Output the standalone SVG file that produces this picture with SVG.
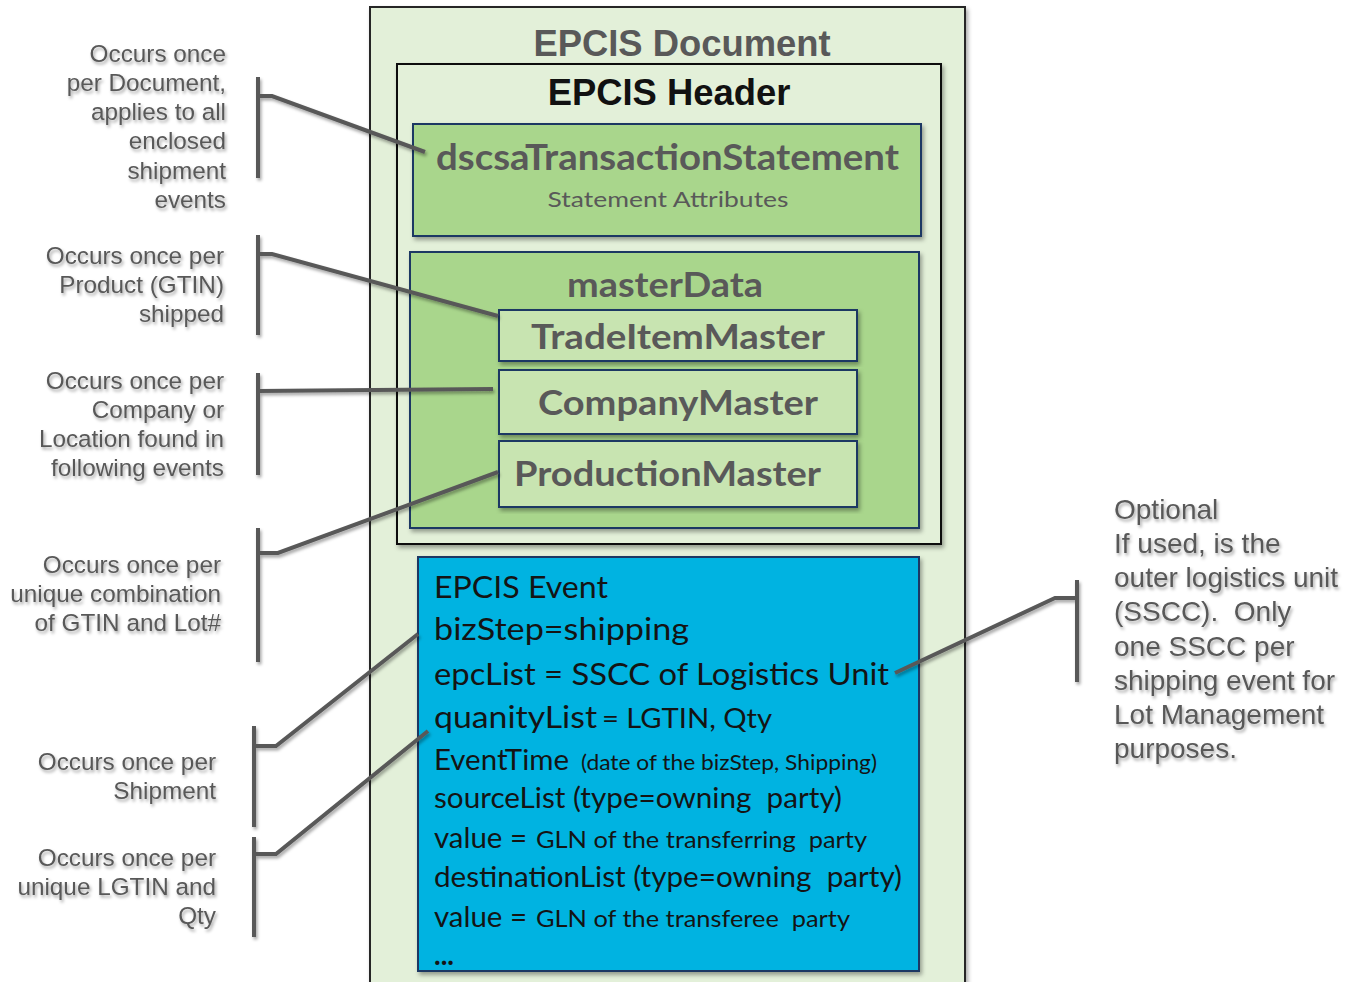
<svg xmlns="http://www.w3.org/2000/svg" width="1359" height="982" viewBox="0 0 1359 982">
<defs>
<filter id="sh" x="-10%" y="-10%" width="120%" height="120%"><feDropShadow dx="2" dy="3" stdDeviation="2" flood-color="#000" flood-opacity="0.35"/></filter>
<filter id="tsh" x="-10%" y="-20%" width="120%" height="150%"><feDropShadow dx="1.5" dy="2.5" stdDeviation="1.5" flood-color="#000" flood-opacity="0.35"/></filter>
</defs>
<style>
.note{font-family:"Liberation Sans",Arial,sans-serif;font-size:24.3px;fill:#595959}
.rnote{font-family:"Liberation Sans",Arial,sans-serif;font-size:28px;fill:#595959}
.title{font-family:"Liberation Sans",Arial,sans-serif;font-size:36.4px;font-weight:bold;text-anchor:middle}
.gb{font-family:Lato,"Open Sans",sans-serif;font-weight:bold;fill:#595959}
.ev{font-family:Lato,"Open Sans",sans-serif;fill:#141414;white-space:pre}
.box{stroke:#1f3864;stroke-width:2}
.conn{fill:none;stroke:#595959;stroke-width:4;stroke-linejoin:miter}
</style>
<rect width="1359" height="982" fill="#ffffff"/>

<g id="epcis-document">
<rect x="370" y="7" width="595" height="980" fill="#e3f0d9" stroke="#262626" stroke-width="2" filter="url(#sh)"/>
<text class="title" x="682" y="56" fill="#595959">EPCIS Document</text>
</g>

<g id="epcis-header">
<rect x="397" y="64" width="544" height="480" fill="#e3f0d9" stroke="#111" stroke-width="2" filter="url(#sh)"/>
<text class="title" x="669" y="105" fill="#111">EPCIS Header</text>
</g>

<g id="dscsa">
<rect class="box" x="413" y="124" width="508" height="112" fill="#a9d68c" filter="url(#sh)"/>
<text class="gb" x="436" y="170" font-size="36" textLength="463" lengthAdjust="spacingAndGlyphs">dscsaTransactionStatement</text>
<text class="gb" x="668" y="207" font-size="22" text-anchor="middle" textLength="241" lengthAdjust="spacingAndGlyphs" style="font-weight:normal">Statement Attributes</text>
</g>

<g id="masterData">
<rect class="box" x="410" y="252" width="509" height="276" fill="#a9d68c" filter="url(#sh)"/>
<text class="gb" x="567" y="297" font-size="34" textLength="196" lengthAdjust="spacingAndGlyphs">masterData</text>
</g>

<g id="trade-item-master">
<rect class="box" x="499" y="310" width="358" height="51" fill="#c8e4b1" filter="url(#sh)"/>
<text class="gb" x="531" y="349" font-size="34" textLength="294" lengthAdjust="spacingAndGlyphs">TradeItemMaster</text>
</g>

<g id="company-master">
<rect class="box" x="499" y="370" width="358" height="64" fill="#c8e4b1" filter="url(#sh)"/>
<text class="gb" x="538" y="415" font-size="34" textLength="280" lengthAdjust="spacingAndGlyphs">CompanyMaster</text>
</g>

<g id="production-master">
<rect class="box" x="499" y="441" width="358" height="66" fill="#c8e4b1" filter="url(#sh)"/>
<text class="gb" x="514" y="486" font-size="34" textLength="307" lengthAdjust="spacingAndGlyphs">ProductionMaster</text>
</g>

<g id="epcis-event">
<rect class="box" x="418" y="557" width="501" height="414" fill="#00b3e1" filter="url(#sh)"/>
<text class="ev" x="434" y="598" font-size="31" textLength="174" lengthAdjust="spacingAndGlyphs">EPCIS Event</text>
<text class="ev" x="434" y="640" font-size="31" textLength="255" lengthAdjust="spacingAndGlyphs">bizStep=shipping</text>
<text class="ev" x="434" y="685" font-size="31" textLength="455" lengthAdjust="spacingAndGlyphs">epcList = SSCC of Logistics Unit</text>
<text class="ev" x="434" y="728" font-size="31" textLength="163" lengthAdjust="spacingAndGlyphs">quanityList</text>
<text class="ev" x="602" y="728" font-size="27" textLength="170" lengthAdjust="spacingAndGlyphs">= LGTIN, Qty</text>
<text class="ev" x="434" y="770" font-size="28" textLength="135" lengthAdjust="spacingAndGlyphs">EventTime</text>
<text class="ev" x="581" y="770" font-size="21" textLength="296" lengthAdjust="spacingAndGlyphs">(date of the bizStep, Shipping)</text>
<text class="ev" x="434" y="808" font-size="28" textLength="408" lengthAdjust="spacingAndGlyphs">sourceList (type=owning  party)</text>
<text class="ev" x="434" y="848" font-size="28" textLength="93" lengthAdjust="spacingAndGlyphs">value =</text>
<text class="ev" x="536" y="848" font-size="24" textLength="331" lengthAdjust="spacingAndGlyphs">GLN of the transferring  party</text>
<text class="ev" x="434" y="887" font-size="28" textLength="468" lengthAdjust="spacingAndGlyphs">destinationList (type=owning  party)</text>
<text class="ev" x="434" y="927" font-size="28" textLength="93" lengthAdjust="spacingAndGlyphs">value =</text>
<text class="ev" x="536" y="927" font-size="24" textLength="314" lengthAdjust="spacingAndGlyphs">GLN of the transferee  party</text>
<text class="ev" x="434" y="965" font-size="28" font-weight="bold">...</text>
</g>

<g id="notes-left" filter="url(#tsh)" text-anchor="end">
<g id="note-document">
<text class="note" x="226" y="62">Occurs once</text>
<text class="note" x="226" y="91">per Document,</text>
<text class="note" x="226" y="120">applies to all</text>
<text class="note" x="226" y="149">enclosed</text>
<text class="note" x="226" y="179">shipment</text>
<text class="note" x="226" y="208">events</text>
</g>
<g id="note-product">
<text class="note" x="224" y="264">Occurs once per</text>
<text class="note" x="224" y="293">Product (GTIN)</text>
<text class="note" x="224" y="322">shipped</text>
</g>
<g id="note-company">
<text class="note" x="224" y="389">Occurs once per</text>
<text class="note" x="224" y="418">Company or</text>
<text class="note" x="224" y="447">Location found in</text>
<text class="note" x="224" y="476">following events</text>
</g>
<g id="note-lot">
<text class="note" x="221" y="573">Occurs once per</text>
<text class="note" x="221" y="602">unique combination</text>
<text class="note" x="221" y="631">of GTIN  and Lot#</text>
</g>
<g id="note-shipment">
<text class="note" x="216" y="770">Occurs once per</text>
<text class="note" x="216" y="799">Shipment</text>
</g>
<g id="note-lgtin">
<text class="note" x="216" y="866">Occurs once per</text>
<text class="note" x="216" y="895">unique LGTIN  and</text>
<text class="note" x="216" y="924">Qty</text>
</g>
</g>

<g id="note-optional" filter="url(#tsh)">
<text class="rnote" x="1114" y="519">Optional</text>
<text class="rnote" x="1114" y="553">If used, is the</text>
<text class="rnote" x="1114" y="587">outer logistics unit</text>
<text class="rnote" x="1114" y="621" style="white-space:pre">(SSCC).  Only</text>
<text class="rnote" x="1114" y="656">one SSCC per</text>
<text class="rnote" x="1114" y="690">shipping event  for</text>
<text class="rnote" x="1114" y="724">Lot Management</text>
<text class="rnote" x="1114" y="758">purposes.</text>
</g>

<g id="connectors" filter="url(#tsh)">
<path class="conn" d="M258,77 V178 M258,96 H272 L425,152"/>
<path class="conn" d="M258,235 V335 M258,254 H272 L498,316"/>
<path class="conn" d="M258,373 V475 M258,391 L493,389"/>
<path class="conn" d="M258,528 V662 M258,553 H278 L498,472"/>
<path class="conn" d="M254,726 V827 M254,746 H276 L418,634"/>
<path class="conn" d="M254,837 V937 M254,854 H276 L428,731"/>
<path class="conn" d="M1077,580 V682 M1077,598 H1055 L895,673"/>
</g>
</svg>
